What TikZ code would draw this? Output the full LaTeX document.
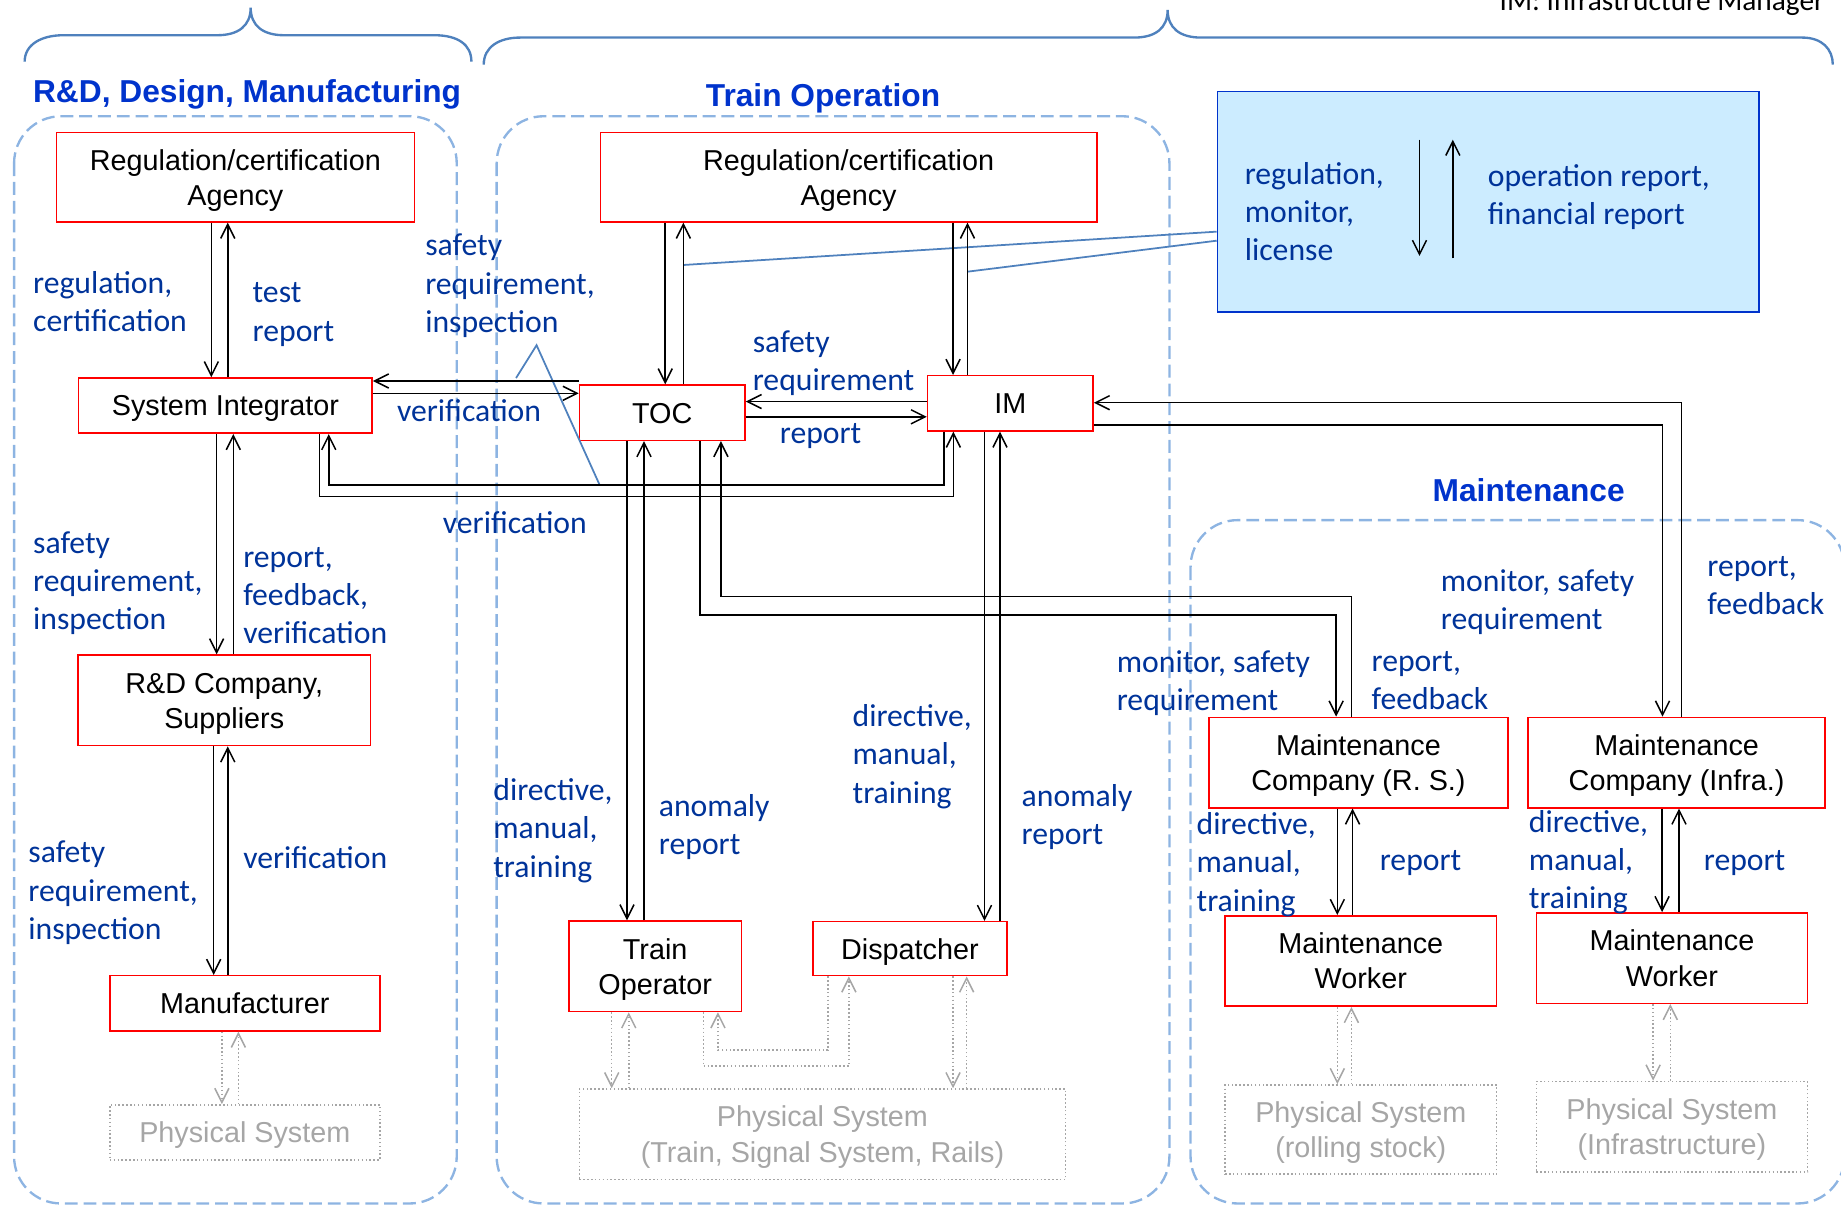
\documentclass[tikz,border=0pt]{standalone}
\usepackage{fontspec}
\setmainfont{Liberation Sans}
\newfontfamily\calib{Carlito}
\usetikzlibrary{arrows.meta}
\definecolor{boxred}{RGB}{255,0,0}
\definecolor{labblue}{RGB}{0,51,153}
\definecolor{headblue}{RGB}{0,51,204}
\definecolor{zoneblue}{RGB}{141,180,226}
\definecolor{braceblue}{RGB}{79,129,189}
\definecolor{infofill}{RGB}{204,236,255}
\definecolor{infoedge}{RGB}{0,51,204}
\definecolor{physgray}{RGB}{166,166,166}

\begin{document}
\begin{tikzpicture}[x=1pt,y=-1pt,
  oneline/.style={text height=17.6pt, text depth=0pt},
  twoline/.style={text height=47.6pt, text depth=0pt},
  actor/.style={draw=boxred, line width=1.3pt, inner sep=0pt, align=center, font=\fontsize{24.5}{30}\selectfont},
  phys/.style={draw=physgray, dotted, line width=1.3pt, inner sep=0pt, align=center, text=physgray, font=\fontsize{24.5}{30}\selectfont},
  lab/.style={anchor=base west, inner sep=0pt, align=left, text=labblue, font=\calib\fontsize{27}{32.5}\selectfont},
  zonehead/.style={anchor=base west, inner sep=0pt, text=headblue, font=\bfseries\fontsize{27}{32}\selectfont},
  zone/.style={draw=zoneblue, line width=2pt, dash pattern=on 11pt off 5pt, rounded corners=40pt},
  topbrace/.style={draw=braceblue, line width=2pt},
  callout/.style={draw=braceblue, line width=1.5pt},
  msg/.style={draw=black, line width=1.3pt, -{Straight Barb[length=12pt,width=12pt]}},
  phy/.style={draw=physgray, dotted, line width=1.3pt, -{Straight Barb[length=12pt,width=12pt]}},
]
\useasboundingbox (0,0) rectangle (1568,1028);

% dashed zones
\draw[zone] (12,99) rectangle (389,1025);
\draw[zone] (423,99) rectangle (996,1025);
\draw[zone] (1014,443) rectangle (1571,1025);

% braces over the zones
\draw[topbrace] (21,52.5) .. controls (21,38) and (35,30) .. (54,30) -- (185,30)
  .. controls (203,30) and (213.5,22) .. (213.5,6.5)
  .. controls (213.5,22) and (224,30) .. (242,30) -- (370,30)
  .. controls (390,30) and (401.5,38) .. (401.5,52.5);
\draw[topbrace] (412,55) .. controls (412,40) and (425,32) .. (443,32) -- (966,32)
  .. controls (984,32) and (994.5,24) .. (994.5,8.5)
  .. controls (994.5,24) and (1005,32) .. (1023,32) -- (1535,32)
  .. controls (1552,32) and (1561,42) .. (1561,55);

% headings
\node[zonehead] (hRD) at (28,87) {R\&D, Design, Manufacturing};
\node[zonehead] (hTO) at (601,91) {Train Operation};
\node[zonehead] (hMT) at (1220,427) {Maintenance};
\node[anchor=base east, inner sep=0pt, font=\calib\fontsize{25}{30}\selectfont] (abbr) at (1554,9) {IM: Infrastructure Manager};

% information box
\node[draw=infoedge, fill=infofill, line width=1.5pt, minimum width=461pt, minimum height=187.5pt] (info) at (1267.5,171.75) {};
\node[lab] (infoL) at (1060,222) {regulation,\\monitor,\\license};
\node[lab] (infoR) at (1267,191.5) {operation report,\\financial report};
\coordinate (infoA1) at (1209,119);
\coordinate (infoA2) at (1209,218);
\coordinate (infoB1) at (1237.4,220);
\coordinate (infoB2) at (1237.4,119);
\draw[msg] (infoA1) -- (infoA2);
\draw[msg] (infoB1) -- (infoB2);

% actors
\node[actor, twoline, minimum width=305pt, minimum height=76pt] (agL) at (200.5,151) {Regulation/certification\\Agency};
\node[actor, oneline, minimum width=250pt, minimum height=47pt] (si) at (192,345.5) {System Integrator};
\node[actor, twoline, minimum width=249pt, minimum height=77pt] (rd) at (191,596.5) {R\&D Company,\\Suppliers};
\node[actor, oneline, minimum width=230pt, minimum height=47pt] (mfr) at (208.5,854.5) {Manufacturer};
\node[phys, oneline, minimum width=230pt, minimum height=47pt] (psL) at (208.5,964.5) {Physical System};

\node[actor, twoline, minimum width=423pt, minimum height=76pt] (agM) at (722.75,151) {Regulation/certification\\Agency};
\node[actor, oneline, minimum width=141pt, minimum height=47pt] (toc) at (564,351.5) {TOC};
\node[actor, oneline, minimum width=141pt, minimum height=47pt] (im) at (860.5,343.5) {IM};
\node[actor, twoline, minimum width=147pt, minimum height=77pt] (to) at (558,823) {Train\\Operator};
\node[actor, oneline, minimum width=165pt, minimum height=46pt] (disp) at (775,808) {Dispatcher};
\node[phys, twoline, minimum width=414pt, minimum height=77pt] (psM) at (700.5,966) {Physical System\\(Train, Signal System, Rails)};

\node[actor, twoline, minimum width=255pt, minimum height=77pt] (mcRS) at (1157,649.5) {Maintenance\\Company (R. S.)};
\node[actor, twoline, minimum width=253pt, minimum height=77pt] (mcIn) at (1428,649.5) {Maintenance\\Company (Infra.)};
\node[actor, twoline, minimum width=231pt, minimum height=77pt] (mwRS) at (1159,818.5) {Maintenance\\Worker};
\node[actor, twoline, minimum width=231pt, minimum height=77pt] (mwIn) at (1424,816) {Maintenance\\Worker};
\node[phys, twoline, minimum width=231pt, minimum height=76pt] (psRS) at (1159,962) {Physical System\\(rolling stock)};
\node[phys, twoline, minimum width=231pt, minimum height=77pt] (psIn) at (1424,959.5) {Physical System\\(Infrastructure)};

% callout lines
\coordinate (calloutTOC) at (582,225.7);
\coordinate (calloutIM) at (824,231.4);
\draw[callout] (info.west |- 0,197.3) -- (calloutTOC);
\draw[callout] (info.west |- 0,205) -- (calloutIM);
\coordinate (wedgeL) at (439.5,322);
\coordinate (wedgeTop) at (457,294);
\coordinate (wedgeR) at (510.7,413);
\draw[callout] (wedgeL) -- (wedgeTop) -- (wedgeR);

% R&D side
\draw[msg] (180,0 |- agL.south) -- (180,0 |- si.north);
\draw[msg] (194,0 |- si.north) -- (194,0 |- agL.south);
\draw[msg] (184.5,0 |- si.south) -- (184.5,0 |- rd.north);
\draw[msg] (198.7,0 |- rd.north) -- (198.7,0 |- si.south);
\draw[msg] (182,0 |- rd.south) -- (182,0 |- mfr.north);
\draw[msg] (194,0 |- mfr.north) -- (194,0 |- rd.south);
\draw[phy] (189,0 |- mfr.south) -- (189,0 |- psL.north);
\draw[phy] (203,0 |- psL.north) -- (203,0 |- mfr.south);

% system integrator and TOC
\draw[msg] (toc.west |- 0,324.5) -- (si.east |- 0,324.5);
\draw[msg] (si.east |- 0,335) -- (toc.west |- 0,335);

% system integrator and IM verification loop
\draw[msg] (272,0 |- si.south) -- (272,423) -- (812,423) -- (812,0 |- im.south);
\draw[msg] (804,0 |- im.south) -- (804,413) -- (280,413) -- (280,0 |- si.south);

% regulator, TOC and IM
\draw[msg] (566.6,0 |- agM.south) -- (566.6,0 |- toc.north);
\draw[msg] (582,0 |- toc.north) -- (582,0 |- agM.south);
\draw[msg] (811.7,0 |- agM.south) -- (811.7,0 |- im.north);
\draw[msg] (824,0 |- im.north) -- (824,0 |- agM.south);
\draw[msg] (im.west |- 0,342) -- (toc.east |- 0,342);
\draw[msg] (toc.east |- 0,355) -- (im.west |- 0,355);

% operators
\draw[msg] (534,0 |- toc.south) -- (534,0 |- to.north);
\draw[msg] (548.5,0 |- to.north) -- (548.5,0 |- toc.south);
\draw[msg] (838.5,0 |- im.south) -- (838.5,0 |- disp.north);
\draw[msg] (851.7,0 |- disp.north) -- (851.7,0 |- im.south);
\draw[phy] (521,0 |- to.south) -- (521,0 |- psM.north);
\draw[phy] (535.5,0 |- psM.north) -- (535.5,0 |- to.south);
\draw[phy] (599,0 |- to.south) -- (599,908) -- (723,908) -- (723,0 |- disp.south);
\draw[phy] (705,0 |- disp.south) -- (705,894.5) -- (611.5,894.5) -- (611.5,0 |- to.south);
\draw[phy] (811.7,0 |- disp.south) -- (811.7,0 |- psM.north);
\draw[phy] (823.3,0 |- psM.north) -- (823.3,0 |- disp.south);

% maintenance links
\draw[msg] (596,0 |- toc.south) -- (596,524) -- (1138,524) -- (1138,0 |- mcRS.north);
\draw[msg] (1151,0 |- mcRS.north) -- (1151,508) -- (614,508) -- (614,0 |- toc.south);
\draw[msg] (1432,0 |- mcIn.north) -- (1432,343) -- (im.east |- 0,343);
\draw[msg] (im.east |- 0,362) -- (1416,362) -- (1416,0 |- mcIn.north);
\draw[msg] (1139,0 |- mcRS.south) -- (1139,0 |- mwRS.north);
\draw[msg] (1152,0 |- mwRS.north) -- (1152,0 |- mcRS.south);
\draw[msg] (1415.6,0 |- mcIn.south) -- (1415.6,0 |- mwIn.north);
\draw[msg] (1430,0 |- mwIn.north) -- (1430,0 |- mcIn.south);
\draw[phy] (1139,0 |- mwRS.south) -- (1139,0 |- psRS.north);
\draw[phy] (1151,0 |- psRS.north) -- (1151,0 |- mwRS.south);
\draw[phy] (1408,0 |- mwIn.south) -- (1408,0 |- psIn.north);
\draw[phy] (1422.6,0 |- psIn.north) -- (1422.6,0 |- mwIn.south);

% labels (anchored on the baseline of the last line)
\node[lab] at (28,282.5) {regulation,\\certification};
\node[lab] at (215,290.5) {test\\report};
\node[lab] at (362,283) {safety\\requirement,\\inspection};
\node[lab] at (338,359) {verification};
\node[lab] at (28,536) {safety\\requirement,\\inspection};
\node[lab] at (207,548) {report,\\feedback,\\verification};
\node[lab] at (24,800) {safety\\requirement,\\inspection};
\node[lab] at (207,740) {verification};
\node[lab] at (377,454) {verification};
\node[lab] at (641,332.5) {safety\\requirement};
\node[lab] at (664,378) {report};
\node[lab] at (420,747) {directive,\\manual,\\training};
\node[lab] at (561,727.5) {anomaly\\report};
\node[lab] at (726,684) {directive,\\manual,\\training};
\node[lab] at (870,719.5) {anomaly\\report};
\node[lab] at (951,605.5) {monitor, safety\\requirement};
\node[lab] at (1168,604.5) {report,\\feedback};
\node[lab] at (1227,536.5) {monitor, safety\\requirement};
\node[lab] at (1454,523.5) {report,\\feedback};
\node[lab] at (1019,776) {directive,\\manual,\\training};
\node[lab] at (1175,741) {report};
\node[lab] at (1302,774) {directive,\\manual,\\training};
\node[lab] at (1451,741) {report};
\end{tikzpicture}
\end{document}
